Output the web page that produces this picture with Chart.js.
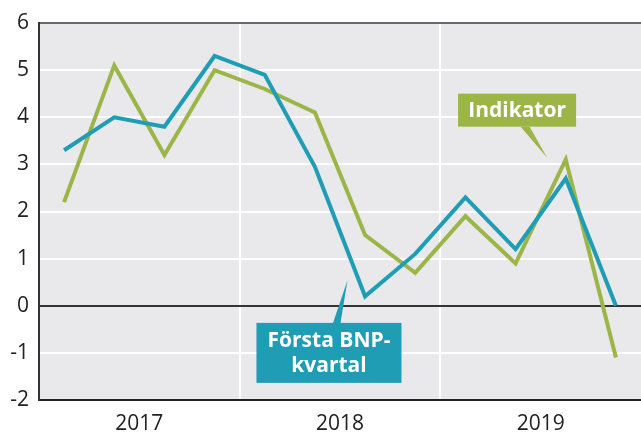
<!DOCTYPE html>
<html><head><meta charset="utf-8">
<script src="https://cdn.jsdelivr.net/npm/chart.js@4/dist/chart.umd.min.js"></script>
<style>html,body{margin:0;padding:0;background:#fff}#wrap{width:641px;height:434px}</style>
</head><body><div id="wrap"><canvas id="c" width="641" height="434"></canvas></div>
<script>
const quarters = ['2017K1','2017K2','2017K3','2017K4','2018K1','2018K2','2018K3','2018K4','2019K1','2019K2','2019K3','2019K4'];
const years = ['2017','2018','2019'];
const forstaBNP = [3.3, 4.0, 3.8, 5.3, 4.9, 2.95, 0.2, 1.1, 2.3, 1.2, 2.7, 0.0];
const indikator = [2.2, 5.1, 3.2, 5.0, 4.6, 4.1, 1.5, 0.7, 1.9, 0.9, 3.1, -1.1];
const yTicks = [-2,-1,0,1,2,3,4,5,6];

const BLUE = '#1f9db4';
const GREEN = '#9bb547';

const toXY = arr => arr.map((v,i)=>({x:i,y:v}));

const bgPlugin = {
  id:'bg',
  beforeDraw(chart){
    const {ctx, chartArea:a, scales} = chart;
    ctx.save();
    ctx.fillStyle = '#e9e9ec';
    ctx.fillRect(a.left, a.top, a.right-a.left, a.bottom-a.top);
    ctx.strokeStyle = '#ffffff';
    ctx.lineWidth = 2;
    for (let k=1;k<years.length;k++){
      const x = Math.round(scales.x.getPixelForValue(k*4-0.5));
      ctx.beginPath(); ctx.moveTo(x, a.top); ctx.lineTo(x, a.bottom); ctx.stroke();
    }
    ctx.restore();
  }
};

const labelPlugin = {
  id:'labels',
  afterDatasetsDraw(chart){
    const {ctx, scales} = chart;
    const X = v=>scales.x.getPixelForValue(v), Y = v=>scales.y.getPixelForValue(v);
    function box(color, cx, cy, w, h, lines, tip, base){
      ctx.save();
      ctx.fillStyle = color;
      const l = X(cx)-w/2, t = Y(cy)-h/2;
      ctx.fillRect(l, t, w, h);
      ctx.beginPath();
      ctx.moveTo(X(base[0]), base[2] ? t : t+h);
      ctx.lineTo(X(base[1]), base[2] ? t : t+h);
      ctx.lineTo(X(tip[0]), Y(tip[1]));
      ctx.closePath(); ctx.fill();
      ctx.fillStyle = '#fff';
      ctx.font = 'bold 21px "Open Sans", "Noto Sans", sans-serif';
      ctx.textAlign = 'center'; ctx.textBaseline = 'middle';
      const lh = 25;
      lines.forEach((s,i)=>{
        ctx.fillText(s, X(cx), Y(cy) + (i-(lines.length-1)/2)*lh + 1);
      });
      ctx.restore();
    }
    box(GREEN, 9.03, 4.15, 118, 33, ['Indikator'], [9.63, 3.14], [9.65-0.55, 9.65-0.37, false]);
    box(BLUE, 5.28, -1.0, 145, 60, ['Första BNP-','kvartal'], [5.65, 0.54], [5.36, 5.51, true]);
  }
};

new Chart(document.getElementById('c'), {
  type:'line',
  data:{
    datasets:[
      {label:'Första BNP-kvartal', data:toXY(forstaBNP), borderColor:BLUE, borderWidth:4, pointRadius:0, tension:0, borderJoinStyle:'miter', borderCapStyle:'butt'},
      {label:'Indikator', data:toXY(indikator), borderColor:GREEN, borderWidth:4, pointRadius:0, tension:0, borderJoinStyle:'miter', borderCapStyle:'butt'}
    ]
  },
  options:{
    responsive:false, animation:false, devicePixelRatio:1,
    layout:{padding:{top:23,right:0,left:0,bottom:0}},
    plugins:{legend:{display:false}, tooltip:{enabled:false}},
    scales:{
      x:{
        type:'linear', min:-0.5, max:11.5,
        afterBuildTicks(s){ s.ticks = years.map((y,i)=>({value:i*4+1.5})); },
        afterFit(s){ s.height = 34; },
        ticks:{ callback:(v)=>years[Math.round((v-1.5)/4)], color:'#222', font:{family:'"Open Sans", "Noto Sans", sans-serif', size:21}, padding:11, maxRotation:0, autoSkip:false },
        grid:{display:false, drawTicks:false},
        border:{display:true, color:'#222', width:2}
      },
      y:{
        min:-2, max:6,
        afterBuildTicks(s){ s.ticks = yTicks.map(v=>({value:v})); },
        afterFit(s){ s.width = 39; },
        ticks:{ color:'#222', font:{family:'"Open Sans", "Noto Sans", sans-serif', size:21}, padding:10 },
        grid:{ drawTicks:false,
          color:c=> c.tick.value===0 ? '#333' : (c.tick.value===6 ? '#6a6a6a' : (c.tick.value===-2 ? '#222' : '#ffffff')),
          lineWidth:2 },
        border:{display:true, color:'#333', width:2}
      }
    }
  },
  plugins:[bgPlugin, labelPlugin]
});
</script>
</body></html>
